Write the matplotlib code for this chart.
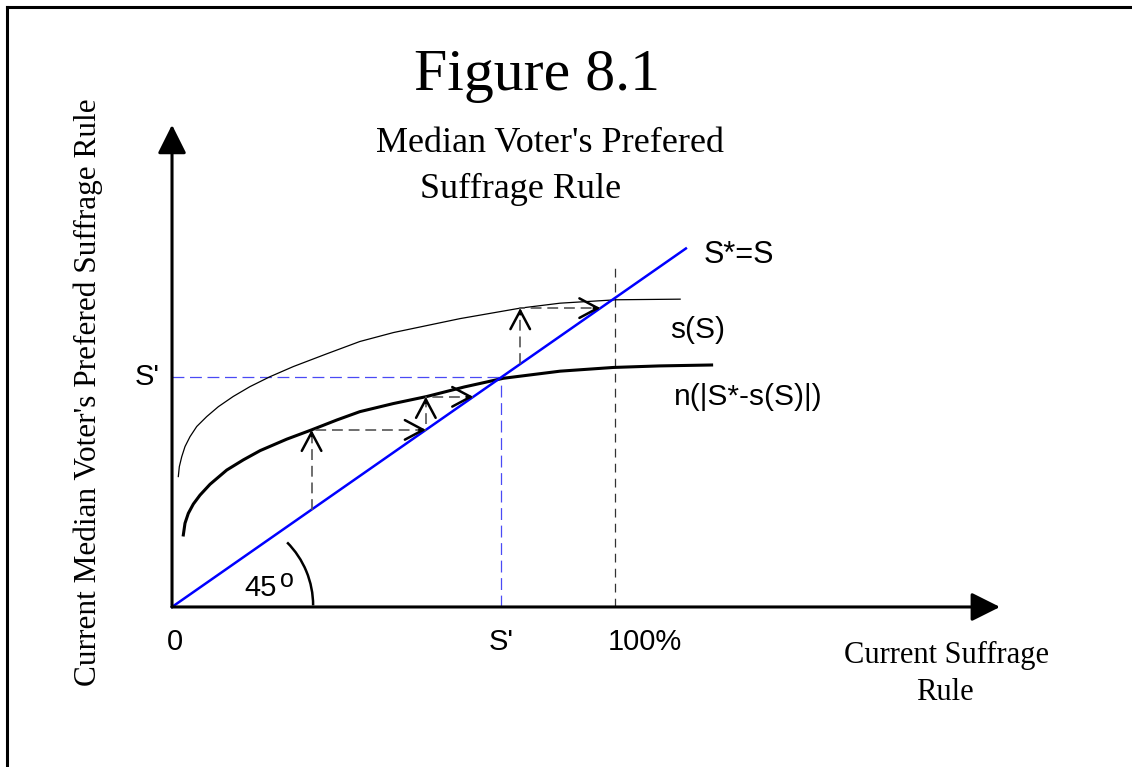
import matplotlib.pyplot as plt
from matplotlib.patches import Arc
from matplotlib.lines import Line2D

# curves (x, y in percent of suffrage)
n_x = [2.55, 2.93, 3.68, 4.81, 6.32, 8.58, 12.35, 16.1, 19.9, 25.9, 31.5, 37.2, 42.4,
       49.9, 57.5, 66.0, 74.8, 87.6, 99.6, 110.0, 121.8]
n_y = [23.3, 27.1, 30.3, 33.3, 36.2, 39.7, 44.3, 47.6, 50.6, 54.3, 57.3, 60.5, 63.2,
       65.8, 68.1, 71.2, 74.0, 76.3, 77.5, 78.0, 78.3]

s_x = [1.42, 1.65, 2.19, 2.93, 4.06, 5.58, 7.83, 10.45, 13.8, 17.6, 22.1, 27.4, 34.9,
       42.4, 50.0, 65.0, 78.6, 87.6, 100.2, 114.7]
s_y = [42.2, 45.4, 48.6, 51.9, 55.1, 58.4, 61.6, 64.8, 68.1, 71.3, 74.5, 77.8, 81.9,
       85.9, 88.8, 93.3, 96.7, 98.3, 99.4, 99.6]

diag_x = [0, 116]
diag_y = [0, 116]

S_prime = 74.3
full = 100
full_top = 111.3

# cobweb paths
low_x = [31.5, 31.5, 57.3, 57.3, 68.0]
low_y = [31.5, 57.3, 57.3, 68.0, 68.0]
up_x = [78.6, 78.6, 96.7]
up_y = [78.6, 96.7, 96.7]

x_tick_pos = [0.7, S_prime, 106.8]
x_tick_lab = ['0', "S'", '100%']

SERIF = 'Liberation Serif'
SANS = 'Liberation Sans'

fig = plt.figure(figsize=(11.32, 7.67), dpi=100)
ax = fig.add_axes([0, 0, 1, 1])
ax.set_xlim(-38.83, 216.7)
ax.set_ylim(-51.78, 196.4)
ax.axis('off')

# frame of the page
fig.add_artist(Line2D([7 / 1132, 7 / 1132], [0, 1 - 7 / 767], color='black', lw=2.2))
fig.add_artist(Line2D([7 / 1132, 1], [1 - 7 / 767, 1 - 7 / 767], color='black', lw=2.2))

# axes with arrows
for tip in [(186.9, 0), (0, 156)]:
    ax.annotate('', xy=tip, xytext=(0, 0),
                arrowprops=dict(arrowstyle='-|>,head_length=0.8,head_width=0.4', lw=2.2,
                                color='black', shrinkA=0, shrinkB=0, mutation_scale=22))

# guide lines
ax.plot([0, S_prime], [S_prime, S_prime], ls=(0, (9.5, 4.5)), color='#4a4af5', lw=0.9)
ax.plot([S_prime, S_prime], [0, S_prime], ls=(0, (9.5, 4.5)), color='#4a4af5', lw=0.9)
ax.plot([full, full], [0, full_top], ls=(0, (7, 5)), color='#333333', lw=0.9)

# curves
ax.plot(s_x, s_y, color='black', lw=0.9, solid_joinstyle='round')
ax.plot(n_x, n_y, color='black', lw=2.2, solid_joinstyle='round')
ax.plot(diag_x, diag_y, color='#0000ff', lw=1.8)


def cobweb(xs, ys):
    ax.plot(xs, ys, ls=(0, (6.5, 3.5)), color='#555555', lw=1.2)
    for i in range(1, len(xs)):
        dx = xs[i] - xs[i - 1]
        dy = ys[i] - ys[i - 1]
        tail = (xs[i] - 1.5 * (dx != 0) * (1 if dx > 0 else -1),
                ys[i] - 2.0 * (dy != 0) * (1 if dy > 0 else -1))
        ax.annotate('', xy=(xs[i], ys[i]), xytext=tail,
                    arrowprops=dict(arrowstyle='->,head_length=0.6,head_width=0.32',
                                    lw=1.8, color='black', shrinkA=0, shrinkB=0,
                                    mutation_scale=22))


cobweb(low_x, low_y)
cobweb(up_x, up_y)

# 45 degree arc
ax.add_patch(Arc((11.7, 0.5), 40.3, 57.8, theta1=0, theta2=55, color='black', lw=1.8))
ax.text(19.9, 6.1, '45', fontsize=21, family=SANS, ha='center', va='center')
ax.text(25.9, 8.7, 'o', fontsize=18, family=SANS, ha='center', va='center')

# labels on the lines
ax.text(119.9, 113.9, 'S*=S', fontsize=22, family=SANS, ha='left', va='center')
ax.text(112.5, 89.5, 's(S)', fontsize=21.5, family=SANS, ha='left', va='center')
ax.text(113.2, 68.0, 'n(|S*-s(S)|)', fontsize=21.5, family=SANS, ha='left', va='center')
ax.text(-2.7, S_prime, "S'", fontsize=21, family=SANS, ha='right', va='center')

for xp, lab in zip(x_tick_pos, x_tick_lab):
    ax.text(xp, -11.3, lab, fontsize=21, family=SANS, ha='center', va='center')

# titles
fig.text(537 / 1132, 1 - 76 / 767, 'Figure 8.1', fontsize=43, family=SERIF, ha='center', va='center')
fig.text(550 / 1132, 1 - 143 / 767, "Median Voter's Prefered", fontsize=26, family=SERIF,
         ha='center', va='center')
fig.text(521 / 1132, 1 - 189 / 767, 'Suffrage Rule', fontsize=26, family=SERIF,
         ha='center', va='center')
fig.text(88 / 1132, 1 - 392 / 767, "Current Median Voter's Prefered Suffrage Rule", fontsize=22.5,
         family=SERIF, rotation=90, ha='center', va='center')
fig.text(946 / 1132, 1 - 655 / 767, 'Current Suffrage', fontsize=22, family=SERIF,
         ha='center', va='center')
fig.text(945 / 1132, 1 - 693 / 767, 'Rule', fontsize=22, family=SERIF, ha='center', va='center')

fig.savefig('out.png', dpi=100)
